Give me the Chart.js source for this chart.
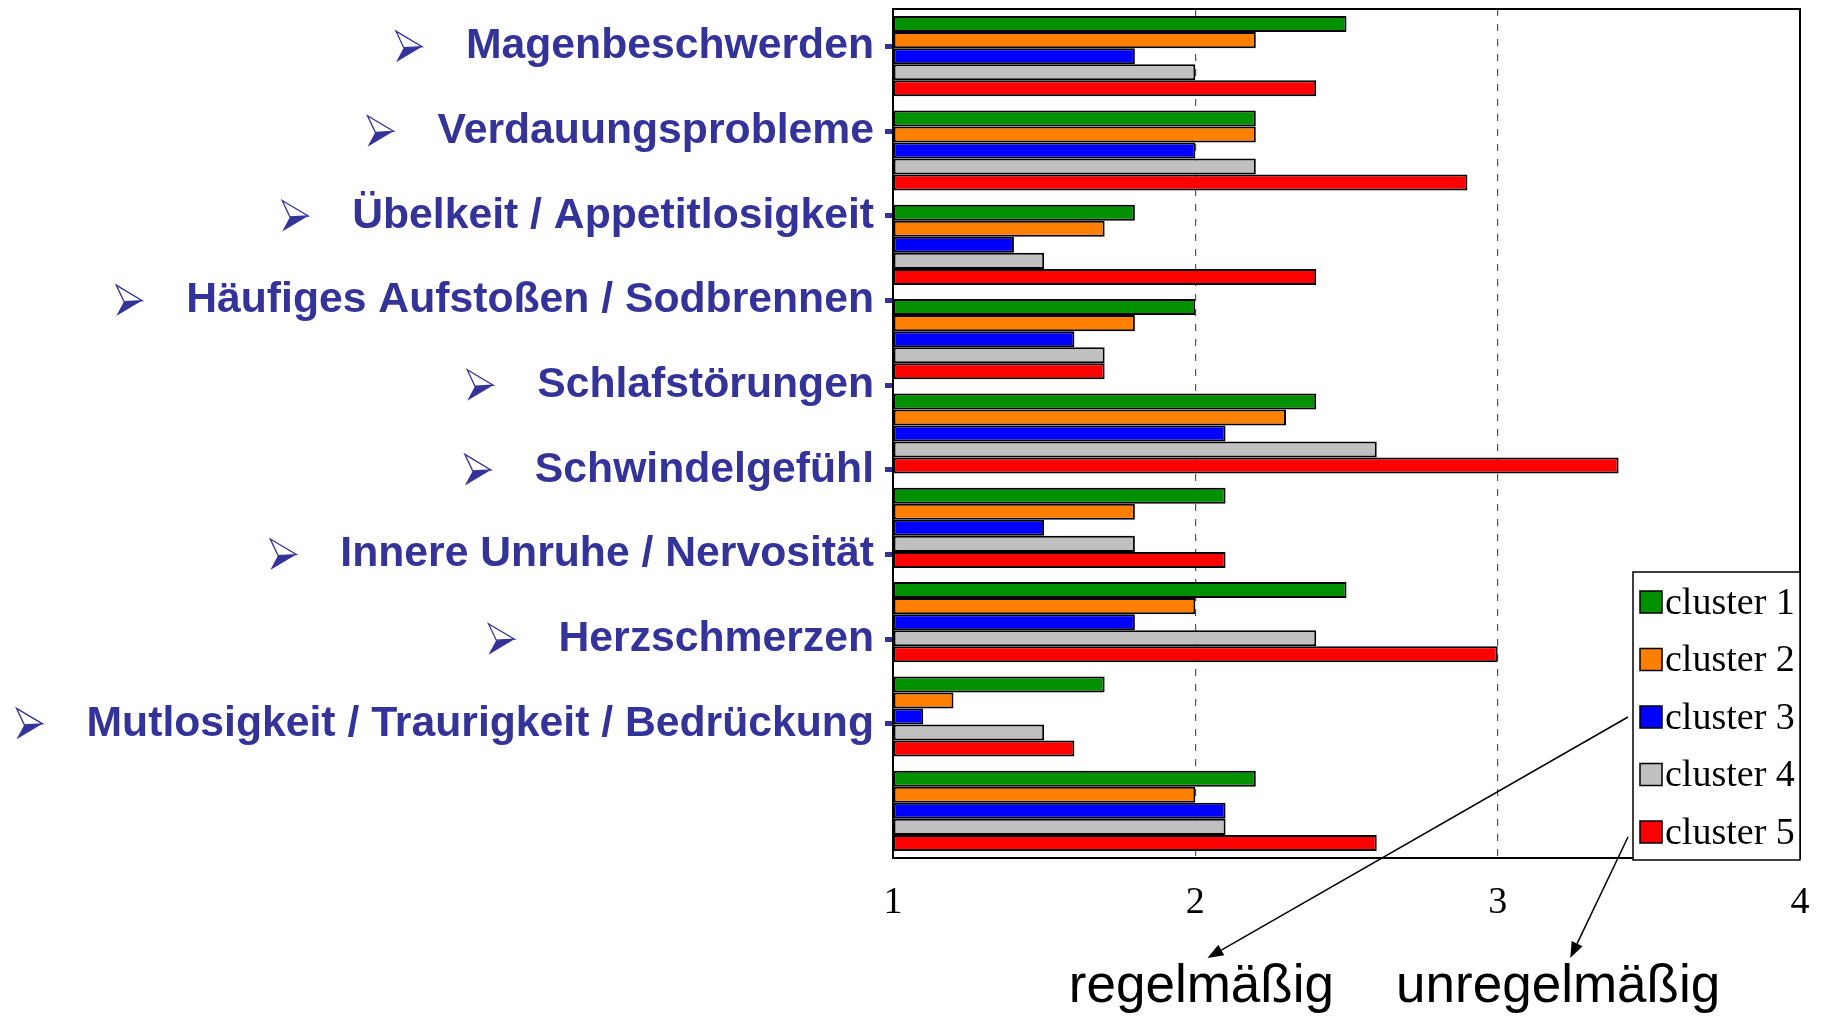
<!DOCTYPE html>
<html>
<head>
<meta charset="utf-8">
<script src="https://cdn.jsdelivr.net/npm/chart.js@4.4.0/dist/chart.umd.min.js"></script>
<style>
  html, body { margin: 0; padding: 0; background: #fff; }
  #wrap { width: 1823px; height: 1016px; }
</style>
</head>
<body>
<div id="wrap"><canvas id="chart"></canvas></div>
<script>
// ── DATA ──────────────────────────────────────────────────
const categories = [
    'Magenbeschwerden',
    'Verdauungsprobleme',
    'Übelkeit / Appetitlosigkeit',
    'Häufiges Aufstoßen / Sodbrennen',
    'Schlafstörungen',
    'Schwindelgefühl',
    'Innere Unruhe / Nervosität',
    'Herzschmerzen',
    'Mutlosigkeit / Traurigkeit / Bedrückung'
];
const seriesNames = ['cluster 1', 'cluster 2', 'cluster 3', 'cluster 4', 'cluster 5'];
const cluster1 = [2.5, 2.2, 1.8, 2.0, 2.4, 2.1, 2.5, 1.7, 2.2];
const cluster2 = [2.2, 2.2, 1.7, 1.8, 2.3, 1.8, 2.0, 1.2, 2.0];
const cluster3 = [1.8, 2.0, 1.4, 1.6, 2.1, 1.5, 1.8, 1.1, 2.1];
const cluster4 = [2.0, 2.2, 1.5, 1.7, 2.6, 1.8, 2.4, 1.5, 2.1];
const cluster5 = [2.4, 2.9, 2.4, 1.7, 3.4, 2.1, 3.0, 1.6, 2.6];
const xTicks = [1, 2, 3, 4];
const freqLabels = ['regelmäßig', 'unregelmäßig'];

const seriesColors = ['#009000', '#ff8000', '#0000ff', '#c0c0c0', '#ff0000'];
const labelBlue = '#333399';
const labelFont = { family: '"Liberation Sans", Arial, sans-serif', size: 42.7, weight: 'bold' };

// ── PLUGINS ───────────────────────────────────────────────
const framePlugin = {
    id: 'frame',
    afterDatasetsDraw(chart) {
        const { ctx, chartArea: a } = chart;
        ctx.save();
        ctx.strokeStyle = '#000';
        ctx.lineWidth = 2;
        ctx.strokeRect(a.left, a.top, a.right - a.left, a.bottom - a.top);
        ctx.restore();
    }
};

// arrow bullet in front of every label on the label axis
const bulletPlugin = {
    id: 'bullets',
    afterDraw(chart) {
        const { ctx } = chart;
        const s = chart.scales.yLabels;
        const right = s.right - s.options.grid.tickLength - s.options.ticks.padding;
        ctx.save();
        ctx.font = `${labelFont.weight} ${labelFont.size}px ${labelFont.family}`;
        s.ticks.forEach(t => {
            const w = ctx.measureText(categories[t.value]).width;
            const x0 = right - w - 70, y = s.getPixelForValue(t.value);
            const bw = 26, bh = 31, top = y - bh / 2;
            ctx.fillStyle = labelBlue;
            ctx.strokeStyle = labelBlue;
            ctx.lineWidth = 1.3;
            // lower half filled
            ctx.beginPath();
            ctx.moveTo(x0 + bw, y);
            ctx.lineTo(x0, top + bh);
            ctx.lineTo(x0 + bw * 0.3, y + 1);
            ctx.closePath();
            ctx.fill();
            // upper half outlined
            ctx.beginPath();
            ctx.moveTo(x0, top);
            ctx.lineTo(x0 + bw, y);
            ctx.lineTo(x0 + bw * 0.3, y + 1);
            ctx.closePath();
            ctx.fillStyle = '#fff';
            ctx.fill();
            ctx.stroke();
        });
        ctx.restore();
    }
};

// legend box sits in the lower right corner, overlapping the frame
function legendBox(chart) {
    const a = chart.chartArea;
    const w = 167, h = 288;
    return { left: a.right - w, top: a.bottom + 2 - h, right: a.right, bottom: a.bottom + 2, rowH: 57.5 };
}

const legendPlugin = {
    id: 'clusterLegend',
    afterDraw(chart) {
        const { ctx } = chart;
        const b = legendBox(chart);
        ctx.save();
        ctx.fillStyle = '#fff';
        ctx.fillRect(b.left, b.top, b.right - b.left, b.bottom - b.top);
        ctx.strokeStyle = '#000';
        ctx.lineWidth = 1.5;
        ctx.strokeRect(b.left, b.top, b.right - b.left, b.bottom - b.top);
        ctx.font = '38px "Liberation Serif", "Times New Roman", serif';
        ctx.textBaseline = 'middle';
        chart.data.datasets.forEach((ds, i) => {
            const cy = b.top + 30 + i * b.rowH;
            ctx.fillStyle = ds.backgroundColor;
            ctx.fillRect(b.left + 7, cy - 11, 22, 22);
            ctx.strokeStyle = '#000';
            ctx.lineWidth = 1.5;
            ctx.strokeRect(b.left + 7, cy - 11, 22, 22);
            ctx.fillStyle = '#000';
            ctx.fillText(ds.label, b.left + 32, cy + 2);
        });
        ctx.restore();
    }
};

function arrow(ctx, x1, y1, x2, y2) {
    const ang = Math.atan2(y2 - y1, x2 - x1);
    const len = 16, half = 6;
    ctx.beginPath();
    ctx.moveTo(x1, y1);
    ctx.lineTo(x2 - Math.cos(ang) * len, y2 - Math.sin(ang) * len);
    ctx.stroke();
    ctx.beginPath();
    ctx.moveTo(x2, y2);
    ctx.lineTo(x2 - Math.cos(ang) * len - Math.sin(ang) * half, y2 - Math.sin(ang) * len + Math.cos(ang) * half);
    ctx.lineTo(x2 - Math.cos(ang) * len + Math.sin(ang) * half, y2 - Math.sin(ang) * len - Math.cos(ang) * half);
    ctx.closePath();
    ctx.fill();
}

const freqPlugin = {
    id: 'freqNotes',
    afterDraw(chart) {
        const { ctx, scales: { x } } = chart;
        const b = legendBox(chart);
        const baseY = chart.height - 14;
        ctx.save();
        ctx.fillStyle = '#000';
        ctx.font = '53px "Liberation Sans", Arial, sans-serif';
        ctx.textAlign = 'center';
        ctx.textBaseline = 'alphabetic';
        ctx.fillText(freqLabels[0], x.getPixelForValue(2.02), baseY);
        ctx.fillText(freqLabels[1], x.getPixelForValue(3.2), baseY);
        ctx.strokeStyle = '#000';
        ctx.lineWidth = 1.5;
        arrow(ctx, b.left - 5, b.top + 30 + 2 * b.rowH, x.getPixelForValue(2.04), baseY - 44);
        arrow(ctx, b.left - 5, b.top + 30 + 4 * b.rowH + 5, x.getPixelForValue(3.24), baseY - 44);
        ctx.restore();
    }
};

// ── CHART ─────────────────────────────────────────────────
const seriesValues = [cluster1, cluster2, cluster3, cluster4, cluster5];

new Chart(document.getElementById('chart').getContext('2d'), {
    type: 'bar',
    data: {
        labels: categories,
        datasets: seriesValues.map((vals, i) => ({
            label: seriesNames[i],
            data: vals,
            base: 1,
            backgroundColor: seriesColors[i],
            borderColor: '#000',
            borderWidth: 2,
            borderSkipped: false,
            categoryPercentage: 0.85,
            barPercentage: 1.0
        }))
    },
    options: {
        indexAxis: 'y',
        responsive: true,
        maintainAspectRatio: false,
        animation: false,
        layout: { padding: { top: 9, right: 23, left: 0, bottom: 0 } },
        plugins: {
            legend: { display: false },
            tooltip: { enabled: false }
        },
        scales: {
            x: {
                type: 'linear',
                min: 1,
                max: 4,
                afterBuildTicks: s => { s.ticks = xTicks.map(v => ({ value: v })); },
                afterFit: s => { s.height = 158; s.paddingLeft = 0; s.paddingRight = 0; },
                ticks: {
                    color: '#000',
                    padding: 22,
                    font: { family: '"Liberation Serif", "Times New Roman", serif', size: 38 }
                },
                grid: {
                    drawTicks: false,
                    lineWidth: 1.2,
                    color: ctx => (ctx.tick && (ctx.tick.value === 2 || ctx.tick.value === 3)) ? '#555' : 'rgba(0,0,0,0)'
                },
                border: { display: false, dash: [7, 8] }
            },
            y: {
                display: false
            },
            // separate axis for the bullet labels, which are not aligned to the bar groups
            yLabels: {
                type: 'linear',
                position: 'left',
                reverse: true,
                offset: false,
                min: -0.445,
                max: 9.585,
                afterBuildTicks: s => { s.ticks = categories.map((c, i) => ({ value: i })); },
                afterFit: s => { s.width = 893; s.paddingTop = 0; s.paddingBottom = 0; },
                ticks: {
                    color: labelBlue,
                    padding: 11,
                    autoSkip: false,
                    font: labelFont,
                    callback: v => categories[v]
                },
                grid: {
                    offset: false,
                    drawOnChartArea: false,
                    color: labelBlue,
                    lineWidth: 5,
                    tickLength: 8
                },
                border: { display: false }
            }
        }
    },
    plugins: [framePlugin, bulletPlugin, legendPlugin, freqPlugin]
});
</script>
</body>
</html>
